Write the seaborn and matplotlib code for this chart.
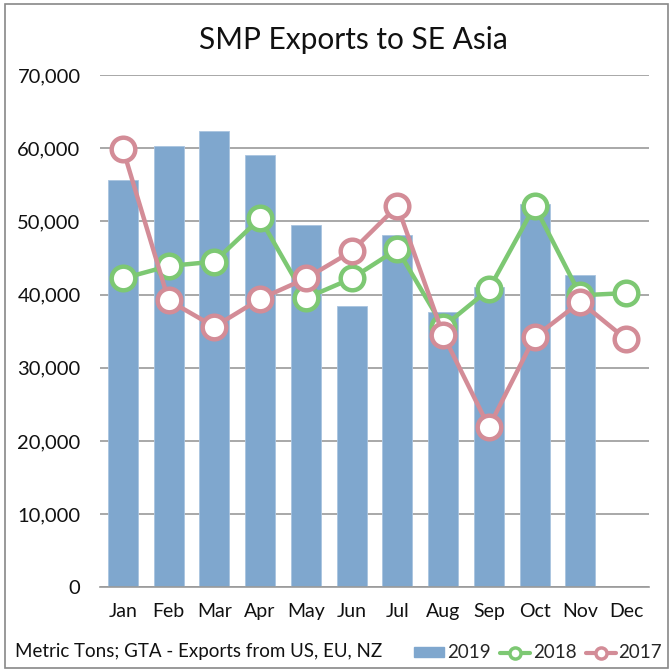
import numpy as np
import pandas as pd
import matplotlib
matplotlib.use("Agg")
import matplotlib.pyplot as plt
from matplotlib.lines import Line2D
from matplotlib.patches import Patch, Rectangle
import seaborn as sns

months = ["Jan", "Feb", "Mar", "Apr", "May", "Jun", "Jul", "Aug", "Sep", "Oct", "Nov", "Dec"]
exports_2019 = [55600, 60300, 62400, 59100, 49500, 38400, 48100, 37600, 41000, 52400, 42700, np.nan]
exports_2018 = [42200, 43900, 44500, 50400, 39500, 42200, 46200, 35600, 40700, 52100, 39900, 40200]
exports_2017 = [59900, 39200, 35600, 39400, 42200, 45900, 52100, 34500, 21900, 34200, 39000, 33900]
yticks = [0, 10000, 20000, 30000, 40000, 50000, 60000, 70000]

sns.set_theme(style="white")
plt.rcParams["font.family"] = ["Lato", "DejaVu Sans"]

BLUE = "#7FA7CE"
GREEN = "#7DC873"
PINK = "#D38C97"

fig = plt.figure(figsize=(6.7, 6.7), dpi=100)
ax = fig.add_axes([100 / 670, 1 - 587.3 / 670, 549 / 670, (587.3 - 75) / 670])

df = pd.DataFrame({"month": months, "v2019": exports_2019,
                   "v2018": exports_2018, "v2017": exports_2017, "idx": np.arange(len(months))})

sns.barplot(data=df, x="month", y="v2019", color=BLUE, width=0.66, ax=ax,
            edgecolor="#A9C4E0", linewidth=0.6, saturation=1, zorder=2)

line_kw = dict(linewidth=3.2, marker="o", markersize=17, markerfacecolor="white",
               markeredgewidth=3.2, zorder=4)
sns.lineplot(data=df, x="idx", y="v2018", color=GREEN, markeredgecolor=GREEN, ax=ax, **line_kw)
sns.lineplot(data=df, x="idx", y="v2017", color=PINK, markeredgecolor=PINK, ax=ax, **line_kw)

ax.set_xlim(-0.5, 11.5)
ax.set_ylim(0, 70000)
ax.set_yticks(yticks)
ax.set_yticklabels([f"{v:,}" for v in yticks], fontsize=14.5, color="#111111")
ax.set_xticks(range(len(months)))
ax.set_xticklabels(months, fontsize=14, color="#111111")
ax.set_xlabel("")
ax.set_ylabel("")
ax.tick_params(axis="y", pad=14, length=0)
ax.tick_params(axis="x", pad=11, length=0)
ax.grid(axis="y", color="#9A9A9A", linewidth=1.2, zorder=0)
ax.set_axisbelow(True)
for s in ["top", "right", "left"]:
    ax.spines[s].set_visible(False)
ax.spines["bottom"].set_color("#9A9A9A")
ax.spines["bottom"].set_linewidth(1.2)
if ax.get_legend() is not None:
    ax.get_legend().remove()

fig.text(0.527, 1 - 40 / 670, "SMP Exports to SE Asia", ha="center", va="center",
         fontsize=21.5, color="#111111")

fig.text(15 / 670, 1 - 652 / 670, "Metric Tons; GTA - Exports from US, EU, NZ",
         ha="left", va="center", fontsize=13.5, color="#111111")

handles = [
    Patch(facecolor=BLUE, edgecolor=BLUE),
    Line2D([0], [0], color=GREEN, linewidth=3, marker="o", markersize=8,
           markerfacecolor="white", markeredgecolor=GREEN, markeredgewidth=2.5),
    Line2D([0], [0], color=PINK, linewidth=3, marker="o", markersize=8,
           markerfacecolor="white", markeredgecolor=PINK, markeredgewidth=2.5),
]
fig.legend(handles, ["2019", "2018", "2017"], loc="center left",
           bbox_to_anchor=(414 / 670, 1 - 653 / 670), ncol=3, frameon=False,
           fontsize=13.5, handlelength=1.6, handleheight=0.45, handletextpad=0.15,
           columnspacing=0.5, borderaxespad=0, borderpad=0)

fig.patches.append(Rectangle((5 / 670, 2 / 670), 663 / 670, 664 / 670,
                             transform=fig.transFigure, fill=False,
                             edgecolor="#888888", linewidth=1.2))

fig.savefig("out.png", dpi=100)
